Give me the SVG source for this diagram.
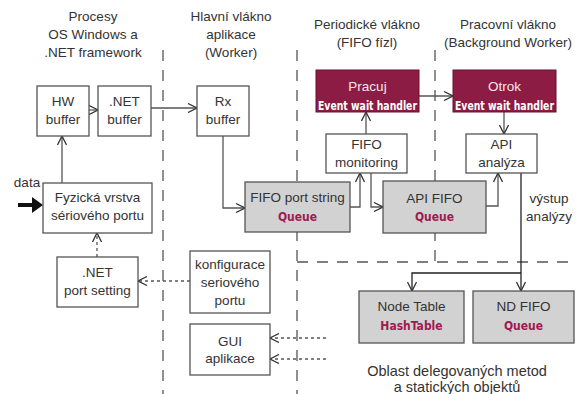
<svg xmlns="http://www.w3.org/2000/svg" width="576" height="394" viewBox="0 0 576 394">
<style>
text{font-family:"Liberation Sans",Arial,sans-serif;font-size:13.5px;fill:#333;text-anchor:middle}
.box{fill:#fff;stroke:#555;stroke-width:1.3}
.gray{fill:#d2d2d2;stroke:#555;stroke-width:1.3}
.red{fill:#8c1c43;stroke:#6a1030;stroke-width:1}
.wt{fill:#f5e6ea}
.wb{fill:#fff;font-family:"DejaVu Sans Condensed","DejaVu Sans",sans-serif;font-weight:bold;font-size:12px}
.q{fill:#a01a50;font-family:"DejaVu Sans Condensed","DejaVu Sans",sans-serif;font-weight:bold;font-size:12px}
.big{font-size:14.5px}
.sep{stroke:#555;stroke-width:1.3;stroke-dasharray:11 9;fill:none}
.ln{stroke:#555;stroke-width:1.3;fill:none;marker-end:url(#oa)}
.ld{stroke:#555;stroke-width:1.3;fill:none;stroke-dasharray:3 3;marker-end:url(#oa)}
.lk{stroke:#222;stroke-width:1.3;fill:none;marker-end:url(#oa)}
</style>
<defs>
<marker id="oa" viewBox="0 0 10 10" refX="10" refY="5" markerWidth="10" markerHeight="10" markerUnits="userSpaceOnUse" orient="auto">
<path d="M1,0.5 L10,5 L1,9.5" fill="none" stroke="#333" stroke-width="1.3"/>
</marker>
</defs>
<rect width="576" height="394" fill="#fff"/>
<g id="headers">
<text x="93" y="21">Procesy</text>
<text x="93" y="39">OS Windows a</text>
<text x="93" y="57">.NET framework</text>
<text x="231" y="21">Hlavní vlákno</text>
<text x="231" y="39">aplikace</text>
<text x="231" y="57">(Worker)</text>
<text x="367" y="29">Periodické vlákno</text>
<text x="367" y="47">(FIFO fízl)</text>
<text x="508" y="29">Pracovní vlákno</text>
<text x="508" y="47">(Background Worker)</text>
</g>
<g id="separators">
<line class="sep" x1="163" y1="50" x2="163" y2="394"/>
<line class="sep" x1="297" y1="50" x2="297" y2="394"/>
<line class="sep" x1="435" y1="50" x2="435" y2="262"/>
<line class="sep" x1="297" y1="262" x2="576" y2="262"/>
</g>
<g id="connectors">
<line class="ln" x1="89" y1="110" x2="98" y2="110"/>
<line class="ln" x1="151" y1="108" x2="197" y2="108"/>
<line class="ln" x1="62" y1="183" x2="62" y2="136"/>
<polyline class="ln" points="223,136 223,208 245,208"/>
<polyline class="ln" points="350,207 360,207 360,173"/>
<line class="ln" x1="366" y1="134" x2="366" y2="112"/>
<polyline class="ln" points="371,173 371,207 383,207"/>
<polyline class="ln" points="486,206 498,206 498,173"/>
<line class="ln" x1="419" y1="96" x2="453" y2="96"/>
<line class="ln" x1="504" y1="112" x2="504" y2="134"/>
<line class="lk" x1="521" y1="173" x2="521" y2="291"/>
<polyline class="lk" points="521,273 412,273 412,291"/>
<line class="ld" x1="190" y1="281" x2="138" y2="281"/>
<line class="ld" x1="97" y1="257" x2="97" y2="233"/>
<line class="ld" x1="326" y1="338" x2="270" y2="338"/>
<line class="ld" x1="326" y1="359" x2="270" y2="359"/>
<line x1="18" y1="205" x2="34" y2="205" stroke="#111" stroke-width="4"/>
<path d="M32,197 L43,205 L32,213 Z" fill="#111"/>
</g>
<g id="hw-buffer"><rect class="box" x="37" y="86" width="52" height="50"/><text x="63" y="106">HW</text><text x="63" y="124">buffer</text></g>
<g id="net-buffer"><rect class="box" x="98" y="86" width="53" height="50"/><text x="124.5" y="106">.NET</text><text x="124.5" y="124">buffer</text></g>
<g id="rx-buffer"><rect class="box" x="197" y="86" width="52" height="50"/><text x="223" y="106">Rx</text><text x="223" y="124">buffer</text></g>
<g id="fyzicka"><rect class="box" x="43" y="183" width="109" height="50"/><text x="97.5" y="202">Fyzická vrstva</text><text x="97.5" y="220">sériového portu</text></g>
<g id="net-port-setting"><rect class="box" x="57" y="257" width="81" height="50"/><text x="97.5" y="277">.NET</text><text x="97.5" y="295">port setting</text></g>
<g id="konfigurace"><rect class="box" x="190" y="251" width="80" height="62"/><text x="230" y="269">konfigurace</text><text x="230" y="287">seriového</text><text x="230" y="305">portu</text></g>
<g id="gui"><rect class="box" x="190" y="324" width="80" height="51"/><text x="230" y="346">GUI</text><text x="230" y="363">aplikace</text></g>
<g id="fifo-port-string"><rect class="gray" x="245" y="182" width="105" height="50"/><text x="297.5" y="202">FIFO port string</text><text class="q" x="297.5" y="221">Queue</text></g>
<g id="pracuj"><rect class="red" x="316" y="70" width="103" height="42"/><text class="wt" x="367.5" y="91">Pracuj</text><text class="wb" x="367.5" y="110" textLength="99" lengthAdjust="spacingAndGlyphs">Event wait handler</text></g>
<g id="otrok"><rect class="red" x="453" y="70" width="103" height="42"/><text class="wt" x="504.5" y="91">Otrok</text><text class="wb" x="504.5" y="110" textLength="99" lengthAdjust="spacingAndGlyphs">Event wait handler</text></g>
<g id="fifo-monitoring"><rect class="box" x="326" y="134" width="81" height="39"/><text x="366.5" y="149">FIFO</text><text x="366.5" y="167">monitoring</text></g>
<g id="api-analyza"><rect class="box" x="466" y="134" width="71" height="39"/><text x="501.5" y="149">API</text><text x="501.5" y="167">analýza</text></g>
<g id="api-fifo"><rect class="gray" x="383" y="181" width="103" height="52"/><text x="434.5" y="203">API FIFO</text><text class="q" x="434.5" y="221">Queue</text></g>
<g id="node-table"><rect class="gray" x="359" y="291" width="105" height="52"/><text x="411.5" y="311">Node Table</text><text class="q" x="411.5" y="330">HashTable</text></g>
<g id="nd-fifo"><rect class="gray" x="473" y="291" width="101" height="52"/><text x="523.5" y="311">ND FIFO</text><text class="q" x="523.5" y="330">Queue</text></g>
<g id="labels">
<text x="27" y="187">data</text>
<text x="549" y="203">výstup</text>
<text x="549" y="221">analýzy</text>
<text class="big" x="457" y="376">Oblast delegovaných metod</text>
<text class="big" x="457" y="392">a statických objektů</text>
</g>
</svg>
